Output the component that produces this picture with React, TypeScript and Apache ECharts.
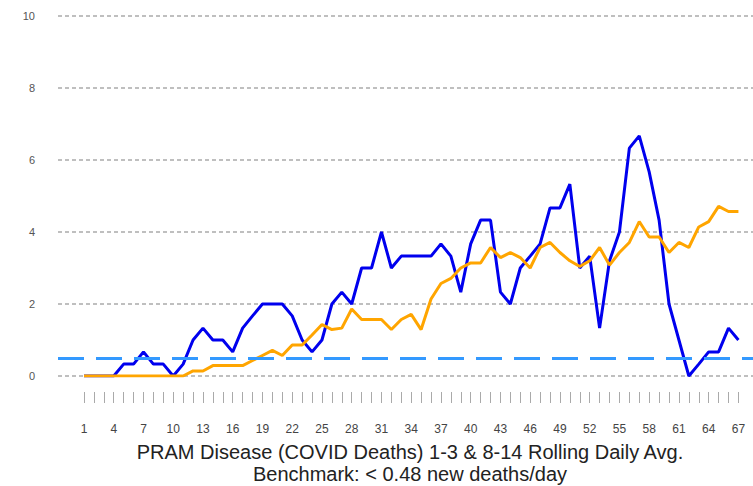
import React, { useEffect, useRef } from "react";
import * as echarts from "echarts";

const days = [
  1, 2, 3, 4, 5, 6, 7, 8, 9, 10, 11, 12, 13, 14, 15, 16, 17, 18, 19, 20,
  21, 22, 23, 24, 25, 26, 27, 28, 29, 30, 31, 32, 33, 34, 35, 36, 37, 38, 39, 40,
  41, 42, 43, 44, 45, 46, 47, 48, 49, 50, 51, 52, 53, 54, 55, 56, 57, 58, 59, 60,
  61, 62, 63, 64, 65, 66, 67,
];

const labelDays = [1, 4, 7, 10, 13, 16, 19, 22, 25, 28, 31, 34, 37, 40, 43, 46, 49, 52, 55, 58, 61, 64, 67];

const rolling1to3 = [
  0, 0, 0, 0, 0.33, 0.33, 0.67, 0.33, 0.33, 0,
  0.33, 1.0, 1.33, 1.0, 1.0, 0.67, 1.33, 1.67, 2.0, 2.0,
  2.0, 1.67, 1.0, 0.67, 1.0, 2.0, 2.33, 2.0, 3.0, 3.0,
  4.0, 3.0, 3.33, 3.33, 3.33, 3.33, 3.67, 3.33, 2.33, 3.67,
  4.33, 4.33, 2.33, 2.0, 3.0, 3.33, 3.67, 4.67, 4.67, 5.33,
  3.0, 3.33, 1.33, 3.2, 4.0, 6.33, 6.67, 5.67, 4.33, 2.0,
  1.0, 0, 0.33, 0.67, 0.67, 1.33, 1.0,
];

const rolling8to14 = [
  0, 0, 0, 0, 0, 0, 0, 0, 0, 0,
  0, 0.14, 0.14, 0.29, 0.29, 0.29, 0.29, 0.43, 0.57, 0.71,
  0.57, 0.86, 0.86, 1.14, 1.43, 1.29, 1.33, 1.86, 1.57, 1.57,
  1.57, 1.29, 1.57, 1.71, 1.29, 2.14, 2.57, 2.71, 3.0, 3.14,
  3.14, 3.57, 3.29, 3.43, 3.29, 3.0, 3.57, 3.71, 3.43, 3.2,
  3.04, 3.2, 3.57, 3.08, 3.43, 3.71, 4.29, 3.86, 3.86, 3.43,
  3.71, 3.57, 4.14, 4.29, 4.71, 4.57, 4.57,
];

const benchmark = 0.48;
const yTicks = { min: 0, max: 10, interval: 2 };
const titleLines = [
  "PRAM Disease (COVID Deaths) 1-3 & 8-14 Rolling Daily Avg.",
  "Benchmark: < 0.48 new deaths/day",
];

const FONT = "'Liberation Sans', Arial, sans-serif";

export default function App() {
  const ref = useRef<HTMLDivElement>(null);

  useEffect(() => {
    if (!ref.current) return;
    const chart = echarts.init(ref.current, undefined, { renderer: "svg" });
    const xMin = -1.62;
    const xMax = 68.47;
    chart.setOption({
      animation: false,
      backgroundColor: "#ffffff",
      title: {
        text: titleLines.join("\n"),
        left: 410,
        top: 441,
        padding: 0,
        textAlign: "center",
        textStyle: {
          fontFamily: FONT,
          fontSize: 20,
          fontWeight: "normal",
          color: "#222",
          lineHeight: 22,
        },
      },
      grid: { left: 58, right: 0, top: 16, bottom: 110 },
      xAxis: [
        {
          type: "value",
          min: xMin,
          max: xMax,
          position: "bottom",
          axisLine: { show: false },
          axisTick: { show: false },
          splitLine: { show: false },
          axisLabel: {
            customValues: labelDays,
            margin: 47,
            fontFamily: FONT,
            fontSize: 12,
            color: "#444",
          },
        },
        {
          type: "value",
          min: xMin,
          max: xMax,
          position: "bottom",
          offset: 16,
          axisLine: { show: false },
          axisTick: {
            show: true,
            customValues: days,
            length: 11,
            lineStyle: { color: "#aaa", width: 1 },
          },
          axisLabel: { show: false },
          splitLine: { show: false },
        },
      ],
      yAxis: {
        type: "value",
        min: yTicks.min,
        max: yTicks.max,
        interval: yTicks.interval,
        axisLine: { show: false },
        axisTick: { show: false },
        axisLabel: { margin: 23, fontFamily: FONT, fontSize: 11, color: "#555" },
        splitLine: { lineStyle: { color: "#aaa", width: 1.5, type: [4, 3] } },
      },
      series: [
        {
          type: "line",
          data: [],
          z: 1,
          markLine: {
            silent: true,
            symbol: "none",
            label: { show: false },
            lineStyle: { color: "#3399ff", width: 3, type: [26, 12] },
            data: [{ yAxis: benchmark }],
          },
        },
        {
          name: "1-3",
          type: "line",
          z: 2,
          data: days.map((d, i) => [d, rolling1to3[i]]),
          showSymbol: false,
          lineStyle: { color: "#0000ee", width: 3 },
        },
        {
          name: "8-14",
          type: "line",
          z: 3,
          data: days.map((d, i) => [d, rolling8to14[i]]),
          showSymbol: false,
          lineStyle: { color: "#ffa500", width: 3 },
        },
      ],
    });
    return () => chart.dispose();
  }, []);

  return (
    <div
      ref={ref}
      style={{ position: "fixed", left: 0, top: 0, width: 753, height: 486, background: "#fff" }}
    />
  );
}
